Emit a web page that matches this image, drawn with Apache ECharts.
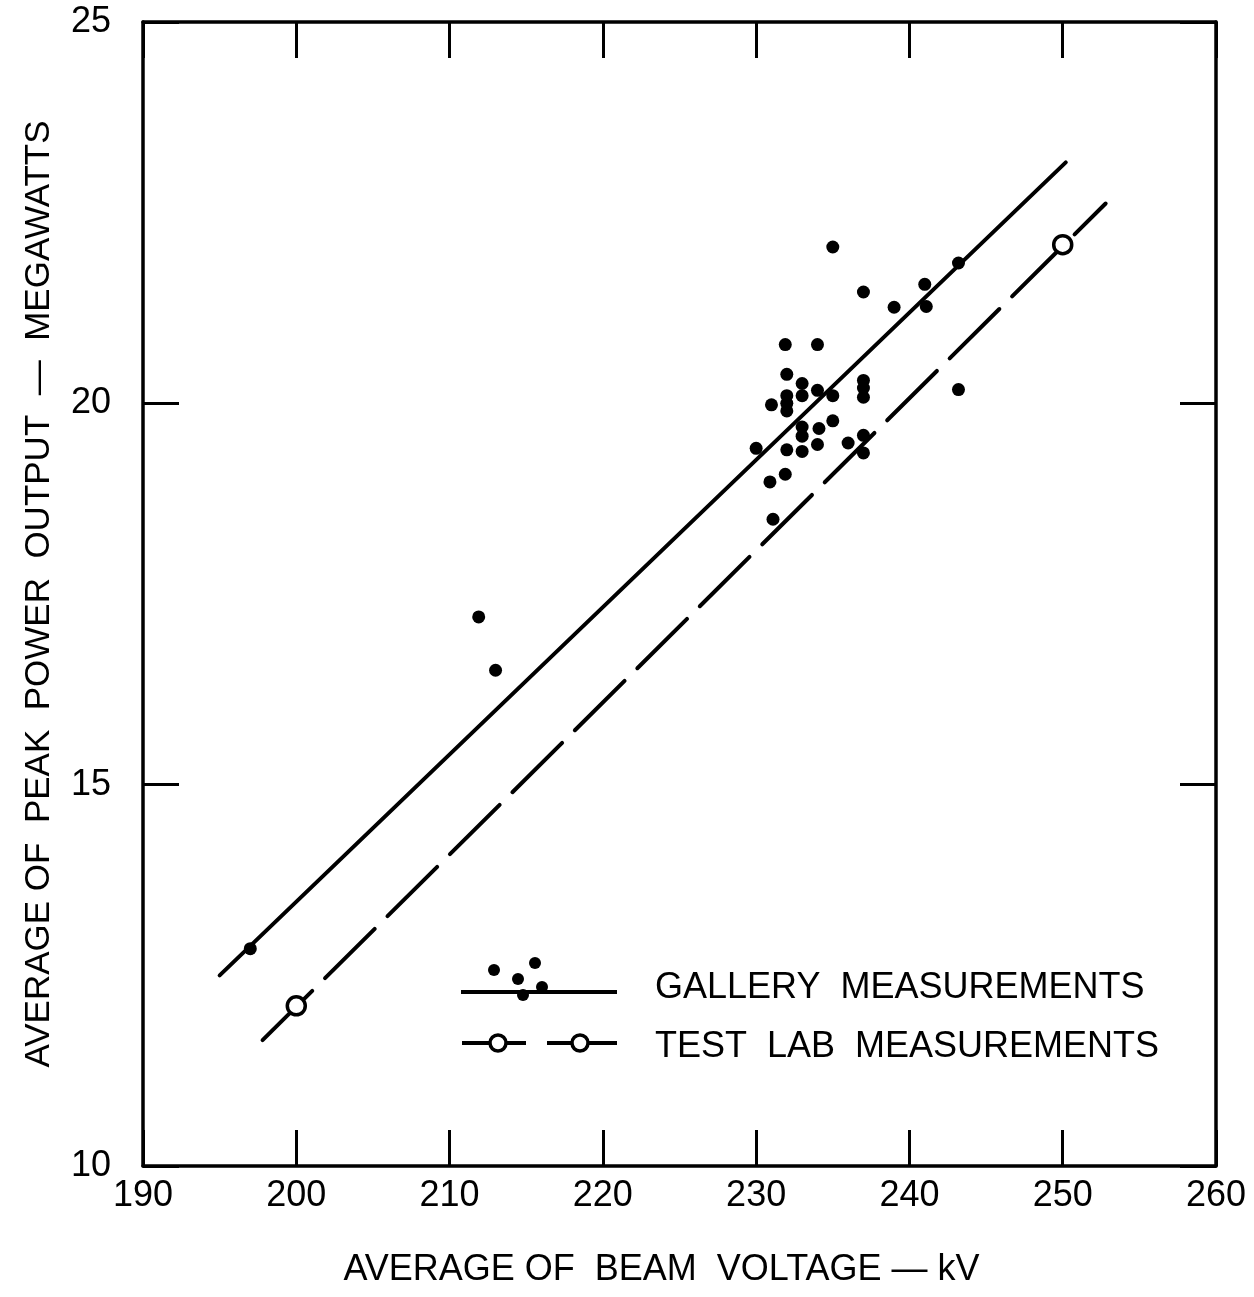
<!DOCTYPE html>
<html>
<head>
<meta charset="utf-8">
<script src="https://cdn.jsdelivr.net/npm/echarts@6/dist/echarts.min.js"></script>
<style>
  html, body { margin: 0; padding: 0; background: #fff; }
  #chart { width: 1254px; height: 1297px; }
</style>
</head>
<body>
<div id="chart"></div>
<script>
// gallery measurements (kV, MW)
var galleryVoltage = [197.0, 211.9, 213.0, 235.0, 237.0, 239.0, 241.0, 241.1, 243.2, 231.9,
    234.0, 232.0, 233.0, 234.0, 235.0, 237.0, 237.0, 237.0, 233.0, 232.0,
    232.0, 232.0, 231.0, 235.0, 234.1, 233.0, 233.0, 237.0, 237.0, 236.0,
    234.0, 232.0, 233.0, 230.0, 230.9, 231.9, 231.1, 243.2];
var galleryPower = [12.85, 17.20, 16.50, 22.05, 21.46, 21.26, 21.56, 21.27, 21.84, 20.77,
    20.77, 20.38, 20.26, 20.17, 20.10, 20.30, 20.20, 20.08, 20.10, 20.10,
    20.00, 19.90, 19.98, 19.77, 19.67, 19.69, 19.57, 19.58, 19.35, 19.48,
    19.46, 19.39, 19.37, 19.41, 18.97, 19.07, 18.48, 20.18];

// test lab measurements
var testVoltage = [200, 250];
var testPower = [12.1, 22.08];

// fitted lines (end points)
var galleryFitVoltage = [195.0, 250.2];
var galleryFitPower = [12.50, 23.16];
var testFitVoltage = [197.8, 252.8];
var testFitPower = [11.65, 22.62];

var xTicks = [190, 260, 10];
var yTicks = [10, 25, 5];

function pairs(xs, ys) {
    var out = [];
    for (var i = 0; i < xs.length; i++) out.push([xs[i], ys[i]]);
    return out;
}

var chart = echarts.init(document.getElementById('chart'));
var font = 'Liberation Sans, Arial, sans-serif';

var axisCommon = {
    axisLine: { show: true, lineStyle: { color: '#000', width: 3.5 } },
    axisTick: { show: true, inside: true, length: 36, lineStyle: { color: '#000', width: 3 } },
    splitLine: { show: false },
    minorTick: { show: false }
};

option = {
    backgroundColor: '#fff',
    animation: false,
    grid: { left: 143, top: 22, right: 38, bottom: 131 },
    xAxis: [
        Object.assign({
            type: 'value',
            position: 'bottom',
            min: xTicks[0], max: xTicks[1], interval: xTicks[2],
            axisLabel: { color: '#000', fontSize: 36, fontFamily: font, margin: 12 },
            name: 'AVERAGE OF  BEAM  VOLTAGE — kV',
            nameLocation: 'middle',
            nameGap: 86,
            nameTextStyle: { color: '#000', fontSize: 36, fontFamily: font, padding: [0, 36, 0, 0] }
        }, axisCommon),
        Object.assign({
            type: 'value',
            position: 'top',
            min: xTicks[0], max: xTicks[1], interval: xTicks[2],
            axisLabel: { show: false }
        }, axisCommon)
    ],
    yAxis: [
        Object.assign({
            type: 'value',
            position: 'left',
            min: yTicks[0], max: yTicks[1], interval: yTicks[2],
            axisLabel: { color: '#000', fontSize: 36, fontFamily: font, margin: 32 },
            name: 'AVERAGE OF  PEAK  POWER  OUTPUT  —  MEGAWATTS',
            nameLocation: 'middle',
            nameGap: 86,
            nameTextStyle: { color: '#000', fontSize: 35, fontFamily: font }
        }, axisCommon),
        Object.assign({
            type: 'value',
            position: 'right',
            min: yTicks[0], max: yTicks[1], interval: yTicks[2],
            axisLabel: { show: false }
        }, axisCommon)
    ],
    series: [{
        name: 'GALLERY FIT',
        type: 'line',
        data: pairs(galleryFitVoltage, galleryFitPower),
        showSymbol: false,
        lineStyle: { color: '#000', width: 4, cap: 'round', opacity: 1 },
        z: 2
    }, {
        name: 'TEST LAB FIT',
        type: 'line',
        data: pairs(testFitVoltage, testFitPower),
        showSymbol: false,
        lineStyle: { color: '#000', width: 4, type: [70, 18], cap: 'round', opacity: 1 },
        z: 2
    }, {
        name: 'GALLERY MEASUREMENTS',
        type: 'scatter',
        data: pairs(galleryVoltage, galleryPower),
        symbol: 'circle',
        symbolSize: 13,
        itemStyle: { color: '#000', opacity: 1 },
        z: 3
    }, {
        name: 'TEST LAB MEASUREMENTS',
        type: 'scatter',
        data: pairs(testVoltage, testPower),
        symbol: 'circle',
        symbolSize: 18,
        itemStyle: { color: '#fff', borderColor: '#000', borderWidth: 3.5, opacity: 1 },
        z: 4
    }],
    graphic: [
        // legend: gallery
        { type: 'line', shape: { x1: 461, y1: 992, x2: 617, y2: 992 }, style: { stroke: '#000', lineWidth: 4 } },
        { type: 'circle', shape: { cx: 494, cy: 970, r: 6 }, style: { fill: '#000' } },
        { type: 'circle', shape: { cx: 535, cy: 963, r: 6 }, style: { fill: '#000' } },
        { type: 'circle', shape: { cx: 518, cy: 979, r: 6 }, style: { fill: '#000' } },
        { type: 'circle', shape: { cx: 523, cy: 995, r: 6 }, style: { fill: '#000' } },
        { type: 'circle', shape: { cx: 542, cy: 987, r: 6 }, style: { fill: '#000' } },
        { type: 'text', left: 655, top: 970, style: { text: 'GALLERY  MEASUREMENTS', fill: '#000', fontSize: 36, fontFamily: font } },
        // legend: test lab
        { type: 'line', shape: { x1: 462, y1: 1043, x2: 526, y2: 1043 }, style: { stroke: '#000', lineWidth: 4 } },
        { type: 'line', shape: { x1: 547, y1: 1043, x2: 617, y2: 1043 }, style: { stroke: '#000', lineWidth: 4 } },
        { type: 'circle', shape: { cx: 498, cy: 1043, r: 8 }, style: { fill: '#fff', stroke: '#000', lineWidth: 3.5 } },
        { type: 'circle', shape: { cx: 580, cy: 1043, r: 8 }, style: { fill: '#fff', stroke: '#000', lineWidth: 3.5 } },
        { type: 'text', left: 655, top: 1029, style: { text: 'TEST  LAB  MEASUREMENTS', fill: '#000', fontSize: 36, fontFamily: font } }
    ]
};
chart.setOption(option);
</script>
</body>
</html>
